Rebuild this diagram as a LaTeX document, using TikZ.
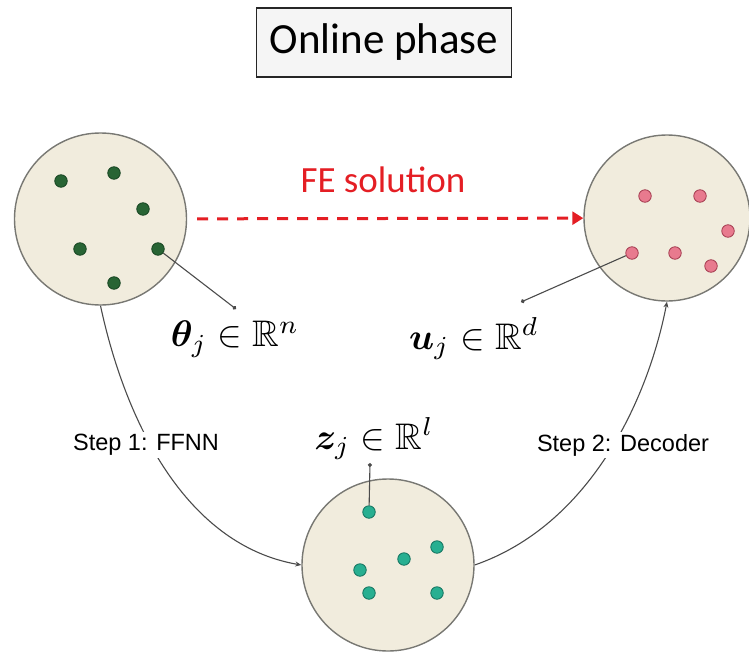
\documentclass[tikz,border=0pt]{standalone}
\usepackage{amsmath,amssymb,bm}
\usepackage{fontspec}
\setsansfont{Liberation Sans}
\newfontfamily\calibri{Carlito}
\usetikzlibrary{arrows.meta}

\definecolor{diskfill}{RGB}{241,236,221}
\definecolor{diskline}{RGB}{120,120,115}
\definecolor{wire}{RGB}{75,75,75}
\definecolor{gfill}{RGB}{40,100,52}
\definecolor{gline}{RGB}{25,70,35}
\definecolor{pfill}{RGB}{232,122,142}
\definecolor{pline}{RGB}{165,60,80}
\definecolor{tfill}{RGB}{40,175,145}
\definecolor{tline}{RGB}{20,115,95}
\definecolor{fered}{RGB}{228,30,36}

\begin{document}
\begin{tikzpicture}[x=10pt, y=-10pt,
    disk/.style={circle, draw=diskline, line width=1.4pt, fill=diskfill, minimum size=172pt, inner sep=0pt},
    bead/.style={circle, line width=0.8pt, minimum size=12.5pt, inner sep=0pt},
    gbead/.style={bead, fill=gfill, draw=gline},
    pbead/.style={bead, fill=pfill, draw=pline},
    tbead/.style={bead, fill=tfill, draw=tline},
    pointer/.style={draw=wire, line width=1.1pt, -{Circle[length=4pt]}},
    flow/.style={draw=wire, line width=1.1pt, -{Stealth[length=6pt, width=5pt]}},
    steplabel/.style={font=\sffamily\fontsize{23.5}{25}\selectfont, fill=white, inner sep=2pt},
    mathlabel/.style={scale=3.7},
    titlebox/.style={draw=black!85, line width=1.6pt, fill=gray!8, minimum width=255pt, minimum height=69pt, font=\calibri\fontsize{43}{46}\selectfont}]
      \useasboundingbox (0,0) rectangle (74.9,65.3);

      \node[titlebox] (title) at (38.4,4.25) {Online phase};

      \node[disk] (inp) at (10.05,21.9) {};
      \node[disk, minimum size=166pt] (out) at (66.7,21.8) {};
      \node[disk] (lat) at (38.8,56.5) {};

      \foreach \x/\y [count=\i] in {6.1/18.1, 11.4/17.3, 14.3/20.9, 8.0/24.9, 15.8/24.9, 11.4/28.3}
        \node[gbead] (g\i) at (\x,\y) {};
      \foreach \x/\y [count=\i] in {64.5/19.6, 70.0/19.6, 72.8/23.1, 63.2/25.3, 67.5/25.3, 71.1/26.6}
        \node[pbead] (p\i) at (\x,\y) {};
      \foreach \x/\y [count=\i] in {36.9/51.2, 43.7/54.7, 40.4/55.9, 36.0/57.0, 36.9/59.3, 43.7/59.3}
        \node[tbead] (t\i) at (\x,\y) {};

      \coordinate (tht) at (23.6,30.9);
      \coordinate (ut) at (52.1,30.2);
      \coordinate (zt) at (37.0,46.3);
      \draw[pointer] (g5) -- (tht);
      \draw[pointer] (p4) -- (ut);
      \draw[pointer] (t1) -- (zt);

      \draw[fered, line width=3pt, dash pattern=on 11pt off 9pt, shorten <=10pt, -{Triangle[length=11pt, width=13pt]}] (inp) -- (out);
      \node[text=fered, font=\calibri\fontsize{37}{40}\selectfont] (fe) at (38.3,18.0) {FE solution};

      \draw[flow] (inp.south) .. controls (12.5,42.0) and (18.5,54.5) .. (lat.west);
      \draw[flow] (lat.east) .. controls (59.0,52.5) and (64.8,40.0) .. (out.south);

      \node[steplabel] (s1) at (14.6,44.5) {Step 1: FFNN};
      \node[steplabel] (s2) at (62.3,44.5) {Step 2: Decoder};

      \node[mathlabel] (theta) at (23.5,33.9) {$\bm{\theta}_j \in \mathbb{R}^n$};
      \node[mathlabel] (uvec) at (47.4,33.9) {$\bm{u}_j \in \mathbb{R}^d$};
      \node[mathlabel] (zvec) at (37.4,43.9) {$\bm{z}_j \in \mathbb{R}^l$};
    \end{tikzpicture}
\end{document}
